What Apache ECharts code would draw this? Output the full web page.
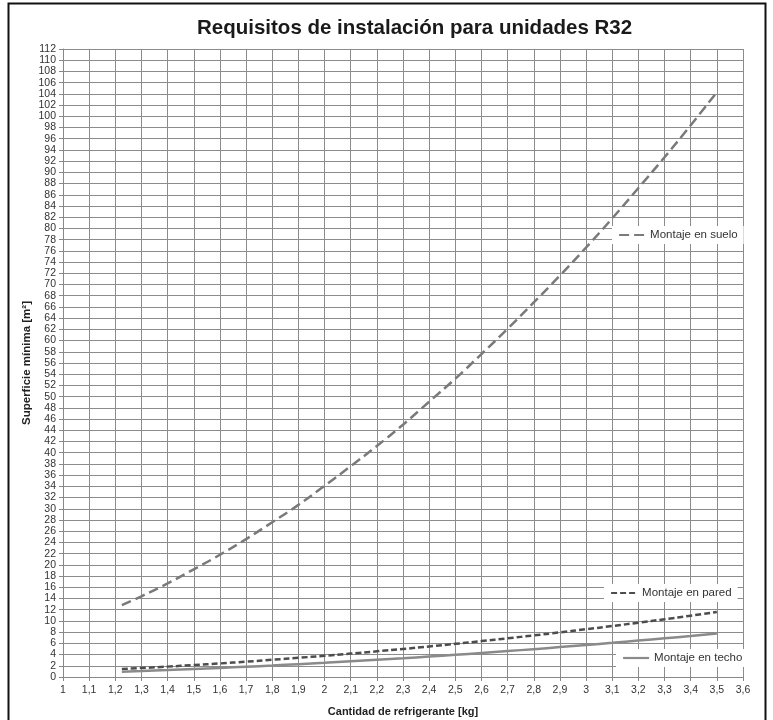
<!DOCTYPE html>
<html>
<head>
<meta charset="utf-8">
<script src="https://cdn.jsdelivr.net/npm/echarts@6/dist/echarts.min.js"></script>
<style>
  html, body { margin: 0; padding: 0; background: #fff; }
  #chart { width: 773px; height: 720px; }
</style>
</head>
<body>
<div id="chart"></div>
<script>
// cantidad de refrigerante [kg]
const cantidad = [1.225, 1.3, 1.4, 1.5, 1.6, 1.7, 1.8, 1.9, 2.0, 2.1, 2.2, 2.3, 2.4, 2.5, 2.6, 2.7, 2.8, 2.9, 3.0, 3.1, 3.2, 3.3, 3.4, 3.5]
// superficie minima [m2]
const suelo = [12.8, 14.4, 16.7, 19.2, 21.8, 24.6, 27.6, 30.7, 34.1, 37.6, 41.2, 45.0, 49.1, 53.2, 57.6, 62.1, 66.8, 71.6, 76.6, 81.8, 87.2, 92.7, 98.4, 104.3]
const pared = [1.42, 1.60, 1.85, 2.13, 2.42, 2.73, 3.07, 3.42, 3.78, 4.17, 4.58, 5.00, 5.45, 5.91, 6.40, 6.90, 7.42, 7.96, 8.52, 9.09, 9.69, 10.30, 10.94, 11.59]
const techo = [0.95, 1.07, 1.24, 1.43, 1.62, 1.83, 2.05, 2.29, 2.53, 2.79, 3.07, 3.35, 3.65, 3.96, 4.28, 4.62, 4.97, 5.33, 5.70, 6.09, 6.49, 6.90, 7.32, 7.76]
const nombres = ['Montaje en suelo', 'Montaje en pared', 'Montaje en techo']

const pares = (ys) => cantidad.map((x, i) => [x, ys[i]])

const myChart = echarts.init(document.getElementById('chart'))

// cuadros de leyenda junto a cada curva
const legendBox = (name, left, top) => ({
  data: [name],
  left: left,
  top: top,
  backgroundColor: '#fff',
  padding: [3, 6, 3, 6],
  itemWidth: 26,
  itemHeight: 10,
  itemGap: 4,
  selectedMode: false,
  itemStyle: { opacity: 0 },
  lineStyle: { width: 2.2 },
  textStyle: { fontFamily: 'Liberation Sans', fontSize: 11.5, color: '#333' }
})

const option = {
  animation: false,
  title: {
    text: 'Requisitos de instalación para unidades R32',
    left: 197,
    top: 18,
    padding: 0,
    textStyle: {
      fontFamily: 'Liberation Sans',
      fontWeight: 'bold',
      fontSize: 20.5,
      color: '#1a1a1a'
    }
  },
  graphic: [
    {
      type: 'rect',
      shape: { x: 8.5, y: 3.5, width: 757, height: 740 },
      style: { fill: 'none', stroke: '#111', lineWidth: 2 },
      silent: true
    }
  ],
  legend: [
    legendBox(nombres[0], 612, 226),
    legendBox(nombres[1], 604, 584),
    legendBox(nombres[2], 616, 649)
  ],
  grid: {
    left: 63,
    right: 30,
    top: 49,
    bottom: 43,
    outerBoundsMode: 'none'
  },
  xAxis: {
    type: 'value',
    min: 1,
    max: 3.6,
    interval: 0.1,
    name: 'Cantidad de refrigerante [kg]',
    nameLocation: 'middle',
    nameGap: 29,
    nameMoveOverlap: false,
    nameTextStyle: { fontFamily: 'Liberation Sans', fontWeight: 'bold', fontSize: 11, color: '#222' },
    axisLine: { lineStyle: { color: '#888', width: 1 } },
    axisTick: { show: true, length: 4, lineStyle: { color: '#888' } },
    axisLabel: {
      margin: 8,
      fontFamily: 'Liberation Sans',
      fontSize: 10.5,
      color: '#333',
      formatter: (v) => {
        const s = (Math.round(v * 10) / 10).toString()
        return s.replace('.', ',')
      }
    },
    splitLine: { show: true, lineStyle: { color: '#8c8c8c', width: 1 } }
  },
  yAxis: {
    type: 'value',
    min: 0,
    max: 112,
    interval: 2,
    name: 'Superficie mínima [m²]',
    nameLocation: 'middle',
    nameGap: 30,
    nameMoveOverlap: false,
    nameTextStyle: { fontFamily: 'Liberation Sans', fontWeight: 'bold', fontSize: 11.5, color: '#222' },
    axisLine: { show: true, lineStyle: { color: '#888', width: 1 } },
    axisTick: { show: true, length: 4, lineStyle: { color: '#888' } },
    axisLabel: { margin: 7, fontFamily: 'Liberation Sans', fontSize: 10.5, color: '#333' },
    splitLine: { show: true, lineStyle: { color: '#8c8c8c', width: 1 } }
  },
  series: [
    {
      name: nombres[0],
      type: 'line',
      data: pares(suelo),
      smooth: true,
      symbol: 'none',
      lineStyle: { color: '#7a7a7a', width: 2.5, type: [10, 5] },
      itemStyle: { color: '#7a7a7a' }
    },
    {
      name: nombres[1],
      type: 'line',
      data: pares(pared),
      smooth: true,
      symbol: 'none',
      lineStyle: { color: '#4d4d4d', width: 2.5, type: [6, 3] },
      itemStyle: { color: '#4d4d4d' }
    },
    {
      name: nombres[2],
      type: 'line',
      data: pares(techo),
      smooth: true,
      symbol: 'none',
      lineStyle: { color: '#8a8a8a', width: 2.5, type: 'solid' },
      itemStyle: { color: '#8a8a8a' }
    }
  ]
}

myChart.setOption(option)
window.addEventListener('resize', () => {
  myChart?.resize()
})
</script>
</body>
</html>
